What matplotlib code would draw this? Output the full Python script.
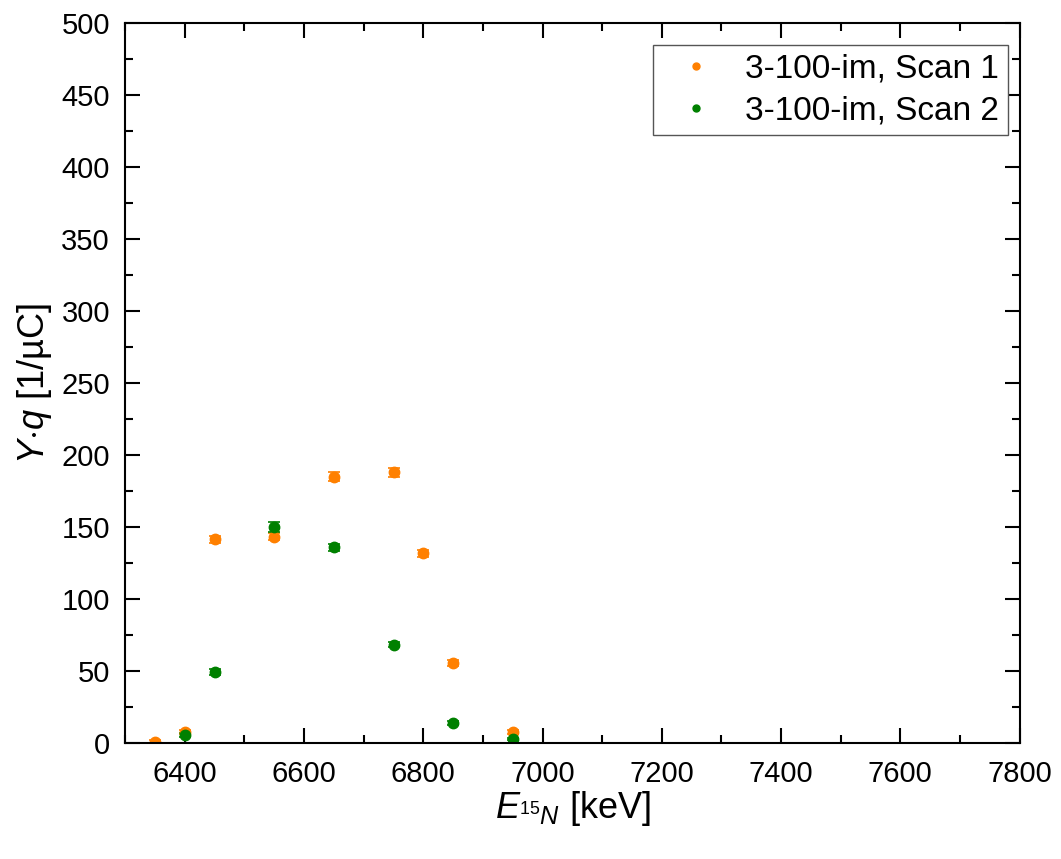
import numpy as np
import matplotlib
matplotlib.use('Agg')
import matplotlib.pyplot as plt
from matplotlib.ticker import MultipleLocator

plt.rcParams['font.family'] = ['Liberation Sans', 'DejaVu Sans']
plt.rcParams['mathtext.fontset'] = 'custom'
plt.rcParams['mathtext.rm'] = 'Liberation Sans'
plt.rcParams['mathtext.it'] = 'Liberation Sans:italic'

# data
energy_1 = [6350, 6400, 6450, 6550, 6650, 6750, 6800, 6850, 6950]
yield_1 = [1.0, 7.5, 141.5, 143.3, 185.0, 188.0, 131.7, 55.5, 7.8]
err_1 = [1.0, 1.5, 2.5, 2.5, 3.0, 3.0, 2.5, 2.0, 1.5]

energy_2 = [6400, 6450, 6550, 6650, 6750, 6850, 6950]
yield_2 = [5.6, 49.6, 149.8, 135.9, 68.4, 13.9, 2.8]
err_2 = [1.2, 2.0, 3.5, 2.5, 2.0, 1.5, 1.0]

labels = ['3-100-im, Scan 1', '3-100-im, Scan 2']
colors = ['#ff8000', '#008000']

fig = plt.figure(figsize=(10.61, 8.59), dpi=100)
ax = fig.add_axes([0.118, 0.135, 0.843, 0.838])

for e, y, err, lab, c in zip([energy_1, energy_2], [yield_1, yield_2],
                             [err_1, err_2], labels, colors):
    ax.errorbar(e, y, yerr=err, fmt='o', color=c, ms=7.5, capsize=4,
                elinewidth=1.2, capthick=1.2, label=lab)

ax.set_xlim(6300, 7800)
ax.set_ylim(0, 500)
ax.xaxis.set_major_locator(MultipleLocator(200))
ax.xaxis.set_minor_locator(MultipleLocator(100))
ax.yaxis.set_major_locator(MultipleLocator(50))
ax.yaxis.set_minor_locator(MultipleLocator(25))
ax.tick_params(which='both', direction='in', top=True, right=True,
               width=1.5, labelsize=21)
ax.tick_params(which='major', length=10.5)
ax.tick_params(which='minor', length=5.5)
ax.tick_params(axis='x', pad=12)
ax.tick_params(axis='y', pad=11)
for s in ax.spines.values():
    s.set_linewidth(1.5)

ax.set_xlabel(r'$E_{^{15}N}$ [keV]', fontsize=26, labelpad=1)
ax.set_ylabel(r'$Y{\cdot}q$ [1/µC]', fontsize=26, labelpad=5)

handles = [plt.Line2D([], [], ls='none', marker='o', ms=5, color=c) for c in colors]
leg = ax.legend(handles, labels, loc='upper right', fontsize=24,
                fancybox=False, edgecolor='#555555', framealpha=1,
                borderpad=0.25, handletextpad=0.42, borderaxespad=0,
                labelspacing=0.32, handlelength=2.1,
                bbox_to_anchor=(0.9866, 0.9694))
leg.get_frame().set_linewidth(1.0)

fig.savefig('out.png', dpi=100)
